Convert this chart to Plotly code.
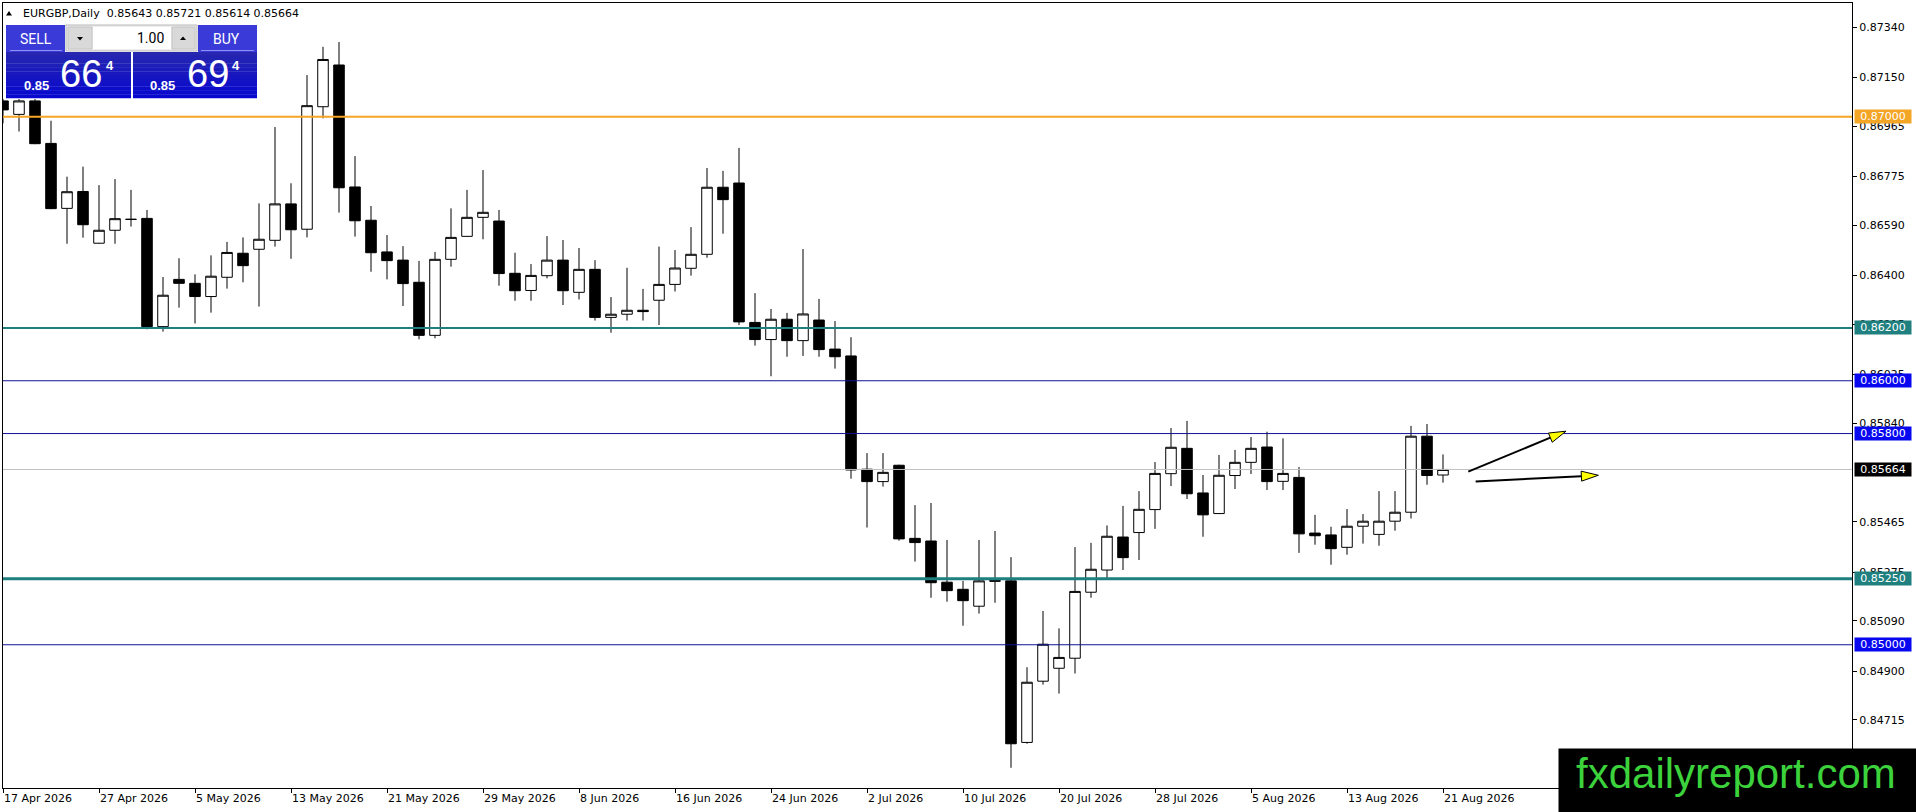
import plotly.graph_objects as go

# ------------------------------------------------------------------ data
open_ = [0.87060, 0.87009, 0.87060, 0.86899, 0.86653, 0.86717, 0.86521, 0.86570, 0.86612, 0.86615,
         0.86205, 0.86384, 0.86369, 0.86319, 0.86392, 0.86483, 0.86498, 0.86532, 0.86670, 0.86574,
         0.87038, 0.87196, 0.86734, 0.86608, 0.86488, 0.86457, 0.86373, 0.86172, 0.86460, 0.86547,
         0.86619, 0.86605, 0.86407, 0.86342, 0.86398, 0.86457, 0.86335, 0.86422, 0.86240, 0.86252,
         0.86267, 0.86305, 0.86365, 0.86426, 0.86479, 0.86733, 0.86749, 0.86221, 0.86156, 0.86233,
         0.86152, 0.86230, 0.86120, 0.86094, 0.85665, 0.85618, 0.85680, 0.85403, 0.85393, 0.85237,
         0.85210, 0.85146, 0.85240, 0.85242, 0.84630, 0.84862, 0.84911, 0.84949, 0.85199, 0.85283,
         0.85408, 0.85425, 0.85512, 0.85648, 0.85744, 0.85575, 0.85497, 0.85641, 0.85691, 0.85749,
         0.85619, 0.85634, 0.85423, 0.85416, 0.85369, 0.85449, 0.85418, 0.85468, 0.85502, 0.85790,
         0.85643]
high_ = [0.87067, 0.87067, 0.87067, 0.86985, 0.86773, 0.86811, 0.86741, 0.86764, 0.86723, 0.86647,
         0.86393, 0.86464, 0.86403, 0.86475, 0.86526, 0.86543, 0.86672, 0.86961, 0.86748, 0.87158,
         0.87265, 0.87283, 0.86851, 0.86662, 0.86552, 0.86510, 0.86454, 0.86488, 0.86653, 0.86723,
         0.86798, 0.86647, 0.86485, 0.86442, 0.86548, 0.86533, 0.86503, 0.86457, 0.86317, 0.86428,
         0.86348, 0.86508, 0.86495, 0.86582, 0.86806, 0.86795, 0.86882, 0.86332, 0.86272, 0.86257,
         0.86499, 0.86310, 0.86226, 0.86165, 0.85726, 0.85726, 0.85682, 0.85529, 0.85537, 0.85397,
         0.85242, 0.85397, 0.85431, 0.85332, 0.84915, 0.85128, 0.85062, 0.85370, 0.85386, 0.85452,
         0.85526, 0.85582, 0.85692, 0.85821, 0.85848, 0.85643, 0.85719, 0.85738, 0.85787, 0.85807,
         0.85782, 0.85673, 0.85492, 0.85447, 0.85514, 0.85495, 0.85582, 0.85582, 0.85829, 0.85836,
         0.85721]
low_ = [0.86975, 0.86944, 0.86896, 0.86650, 0.86519, 0.86542, 0.86519, 0.86519, 0.86584, 0.86195,
        0.86186, 0.86277, 0.86217, 0.86258, 0.86349, 0.86373, 0.86281, 0.86508, 0.86462, 0.86543,
        0.86994, 0.86637, 0.86546, 0.86413, 0.86384, 0.86283, 0.86157, 0.86161, 0.86432, 0.86545,
        0.86536, 0.86360, 0.86303, 0.86303, 0.86388, 0.86287, 0.86308, 0.86228, 0.86182, 0.86228,
        0.86228, 0.86211, 0.86338, 0.86398, 0.86466, 0.86557, 0.86211, 0.86133, 0.86017, 0.86091,
        0.86094, 0.86091, 0.86046, 0.85629, 0.85444, 0.85599, 0.85394, 0.85315, 0.85178, 0.85163,
        0.85072, 0.85118, 0.85159, 0.84534, 0.84625, 0.84849, 0.84815, 0.84891, 0.85178, 0.85252,
        0.85283, 0.85321, 0.85439, 0.85601, 0.85552, 0.85409, 0.85495, 0.85590, 0.85647, 0.85586,
        0.85586, 0.85348, 0.85379, 0.85303, 0.85341, 0.85383, 0.85375, 0.85432, 0.85478, 0.85606,
        0.85614]
close_ = [0.87026, 0.87060, 0.86898, 0.86652, 0.86716, 0.86591, 0.86570, 0.86614, 0.86611, 0.86205,
          0.86324, 0.86369, 0.86319, 0.86396, 0.86486, 0.86436, 0.86536, 0.86670, 0.86572, 0.87042,
          0.87217, 0.86731, 0.86606, 0.86485, 0.86455, 0.86368, 0.86172, 0.86460, 0.86543, 0.86619,
          0.86638, 0.86406, 0.86341, 0.86399, 0.86457, 0.86341, 0.86422, 0.86240, 0.86252, 0.86267,
          0.86262, 0.86365, 0.86427, 0.86479, 0.86733, 0.86686, 0.86223, 0.86156, 0.86233, 0.86152,
          0.86253, 0.86118, 0.86091, 0.85662, 0.85618, 0.85653, 0.85401, 0.85387, 0.85235, 0.85205,
          0.85167, 0.85242, 0.85243, 0.84625, 0.84858, 0.85002, 0.84952, 0.85202, 0.85286, 0.85411,
          0.85330, 0.85513, 0.85649, 0.85748, 0.85572, 0.85492, 0.85642, 0.85691, 0.85744, 0.85618,
          0.85649, 0.85420, 0.85413, 0.85364, 0.85449, 0.85468, 0.85468, 0.85502, 0.85790, 0.85641,
          0.85664]

date_tick_index = [0, 6, 12, 18, 24, 30, 36, 42, 48, 54, 60, 66, 72, 78, 84, 90]
date_tick_labels = ["17 Apr 2026", "27 Apr 2026", "5 May 2026", "13 May 2026", "21 May 2026",
                    "29 May 2026", "8 Jun 2026", "16 Jun 2026", "24 Jun 2026", "2 Jul 2026",
                    "10 Jul 2026", "20 Jul 2026", "28 Jul 2026", "5 Aug 2026", "13 Aug 2026",
                    "21 Aug 2026"]
price_ticks = [0.87340, 0.87150, 0.86965, 0.86775, 0.86590, 0.86400, 0.86215, 0.86025,
               0.85840, 0.85465, 0.85275, 0.85090, 0.84900, 0.84715]

level_prices = [0.87000, 0.86200, 0.86000, 0.85800, 0.85250, 0.85000]
level_line_colors = ["#F3A526", "#1F7F7F", "#10109A", "#10109A", "#1F7F7F", "#10109A"]
level_label_colors = ["#F3A526", "#1F807F", "#0707F0", "#0707F0", "#1F807F", "#0707F0"]
level_widths = [2, 2, 1, 1, 3, 1]
last_price = 0.85664

header_text = "EURGBP,Daily\u00a0\u00a00.85643 0.85721 0.85614 0.85664"
price_prefix = "0.85"
sell_big, buy_big = "66", "69"
sell_pip, buy_pip = "4", "4"
lot_text = "1.00"
watermark = "fxdailyreport.com"

arrow_start_x = [91.58, 92.04]
arrow_start_y = [0.85656, 0.85618]
arrow_end_x = [97.69, 99.71]
arrow_end_y = [0.85809, 0.85642]

# ------------------------------------------------------------------ layout geometry
W, H = 1916, 812
ML, MR, MT, MB = 3, 64, 3, 24
PW, PH = W - ML - MR, H - MT - MB
X_RANGE = [0, PW / 16.0]
Y_RANGE = [0.844574, 0.874309]
SX = PW / (X_RANGE[1] - X_RANGE[0])
SY = PH / (Y_RANGE[1] - Y_RANGE[0])


def px(x):
    return (x - ML) / PW


def py(y):
    return (H - MB - y) / PH


xs = list(range(len(open_)))

fig = go.Figure()
fig.add_trace(go.Candlestick(
    x=xs, open=open_, high=high_, low=low_, close=close_,
    increasing=dict(line=dict(color="black", width=1), fillcolor="white"),
    decreasing=dict(line=dict(color="black", width=1), fillcolor="black"),
    whiskerwidth=0, hoverinfo="skip", showlegend=False,
))

shapes = []
annotations = []

# horizontal levels
for p, lc, w in zip(level_prices, level_line_colors, level_widths):
    shapes.append(dict(type="line", xref="paper", x0=0, x1=1, yref="y", y0=p, y1=p,
                       line=dict(color=lc, width=w), layer="above"))
shapes.append(dict(type="line", xref="paper", x0=0, x1=1, yref="y", y0=last_price, y1=last_price,
                   line=dict(color="#C0C0C0", width=1), layer="above"))

lab_font = dict(family="DejaVu Sans", size=11, color="white")
for p, bc in zip(level_prices, level_label_colors):
    annotations.append(dict(xref="paper", x=1, xanchor="left", xshift=2, yref="y", y=p,
                            yanchor="middle", text=f"{p:.5f}", showarrow=False, bgcolor=bc,
                            font=lab_font, width=56, height=13, borderpad=0, align="center"))
annotations.append(dict(xref="paper", x=1, xanchor="left", xshift=2, yref="y", y=last_price,
                        yanchor="middle", text=f"{last_price:.5f}", showarrow=False,
                        bgcolor="black", font=lab_font, width=56, height=13, borderpad=0,
                        align="center"))

# arrows
def arrow_head(x0, y0, x1, y1, L=17, Wd=5):
    dx = (x1 - x0) * SX
    dy = (y1 - y0) * SY
    n = (dx * dx + dy * dy) ** 0.5
    ux, uy = dx / n, dy / n
    bx, by = x1 * SX - L * ux, y1 * SY - L * uy
    c1 = (bx - Wd * uy, by + Wd * ux)
    c2 = (bx + Wd * uy, by - Wd * ux)
    path = (f"M {x1},{y1} L {c1[0] / SX},{c1[1] / SY} "
            f"L {c2[0] / SX},{c2[1] / SY} Z")
    return path, bx / SX, by / SY


for x0, y0, x1, y1 in zip(arrow_start_x, arrow_start_y, arrow_end_x, arrow_end_y):
    path, bx, by = arrow_head(x0, y0, x1, y1)
    shapes.append(dict(type="line", xref="x", yref="y", x0=x0, y0=y0, x1=bx, y1=by,
                       line=dict(color="black", width=2), layer="above"))
    shapes.append(dict(type="path", xref="x", yref="y", path=path, fillcolor="#FFFF00",
                       line=dict(color="black", width=1), layer="above"))


# trading panel (pixel-placed overlay)
def rect(x0, y0, x1, y1, fill, line=None, lw=0):
    shapes.append(dict(type="rect", xref="paper", yref="paper",
                       x0=px(x0), x1=px(x1), y0=py(y1), y1=py(y0),
                       fillcolor=fill, line=dict(color=line or fill, width=lw), layer="above"))


def tri(pts, fill="black"):
    d = "M " + " L ".join(f"{px(a)},{py(b)}" for a, b in pts) + " Z"
    shapes.append(dict(type="path", xref="paper", yref="paper", path=d, fillcolor=fill,
                       line=dict(color=fill, width=0), layer="above"))


def text(x, y, s, size, color="white", family="Roboto", xanchor="center", bold=False):
    annotations.append(dict(xref="paper", yref="paper", x=px(x), y=py(y), xanchor=xanchor,
                            yanchor="middle", text=f"<b>{s}</b>" if bold else s,
                            showarrow=False, font=dict(family=family, size=size, color=color)))


# header
tri([(6, 15.5), (12, 15.5), (9, 11)])
text(21, 13.5, header_text, 11, color="black", family="DejaVu Sans", xanchor="left")

# top buttons
rect(6, 25, 65, 52, "#3A3AD8")
rect(198, 25, 257, 52, "#3A3AD8")
rect(10, 50, 62, 51, "#9090F0")
rect(201, 50, 254, 51, "#9090F0")
text(35.5, 39.5, "SELL", 14)
text(226.5, 39.5, "BUY", 14)
# lot box
rect(66, 25, 197, 51, "#EDEDED", "#B8B8B8", 1)
rect(68, 27, 92, 49, "#D9D9D9", "#C4C4C4", 1)
rect(172, 27, 195, 49, "#D9D9D9", "#C4C4C4", 1)
rect(93, 27, 171, 49, "white")
tri([(77, 37), (83, 37), (80, 40.5)])
tri([(180, 40), (186, 40), (183, 36.5)])
text(165.5, 38.5, lot_text, 14, color="black", xanchor="right")

# price boxes (vertical gradient)
n_strips = 12
top_c = (38, 38, 176)
bot_c = (8, 8, 206)
for k in range(n_strips):
    t = k / (n_strips - 1)
    c = tuple(int(round(top_c[j] + (bot_c[j] - top_c[j]) * t)) for j in range(3))
    y0 = 52 + k * 46 / n_strips
    y1 = 52 + (k + 1) * 46 / n_strips + 0.3
    col = "rgb(%d,%d,%d)" % c
    rect(6, y0, 131, y1, col)
    rect(133, y0, 257, y1, col)

text(36.5, 85.5, price_prefix, 13, family="Liberation Sans", bold=True)
text(81, 74, sell_big, 38, family="Liberation Sans")
text(109.5, 66, sell_pip, 13, family="Liberation Sans", bold=True)
text(162.5, 85.5, price_prefix, 13, family="Liberation Sans", bold=True)
text(207.5, 74, buy_big, 38, family="Liberation Sans")
text(235.5, 66, buy_pip, 13, family="Liberation Sans", bold=True)

# watermark
annotations.append(dict(xref="paper", yref="paper", x=px(1558), y=py(748), xanchor="left",
                        yanchor="top", text="\u00a0", showarrow=False, bgcolor="black",
                        width=362, height=66, borderpad=0, font=dict(size=10)))
text(1736, 773.5, watermark, 42, color="#3CD23C", family="Liberation Sans")

fig.update_layout(
    width=W, height=H,
    margin=dict(l=ML, r=MR, t=MT, b=MB, pad=0),
    paper_bgcolor="white", plot_bgcolor="white",
    showlegend=False,
    boxgap=0.34, boxgroupgap=0,
    shapes=shapes, annotations=annotations,
    xaxis=dict(range=X_RANGE, showgrid=False, zeroline=False, showline=True, mirror=True,
               linecolor="black", linewidth=1, ticks="outside", ticklen=4, tickcolor="black",
               tickvals=date_tick_index, ticktext=date_tick_labels,
               ticklabelposition="outside right",
               tickfont=dict(family="DejaVu Sans", size=11, color="black"),
               rangeslider=dict(visible=False), fixedrange=True),
    yaxis=dict(range=Y_RANGE, side="right", showgrid=False, zeroline=False, showline=True,
               mirror=True, linecolor="black", linewidth=1, ticks="outside", ticklen=4,
               tickcolor="black", tickvals=price_ticks,
               ticktext=[f"{v:.5f}" for v in price_ticks],
               tickfont=dict(family="DejaVu Sans", size=11, color="black"), fixedrange=True),
)

fig.write_html("out.html", config={"displayModeBar": False},
               post_script="document.body.style.margin='0';document.body.style.overflow='hidden';")
